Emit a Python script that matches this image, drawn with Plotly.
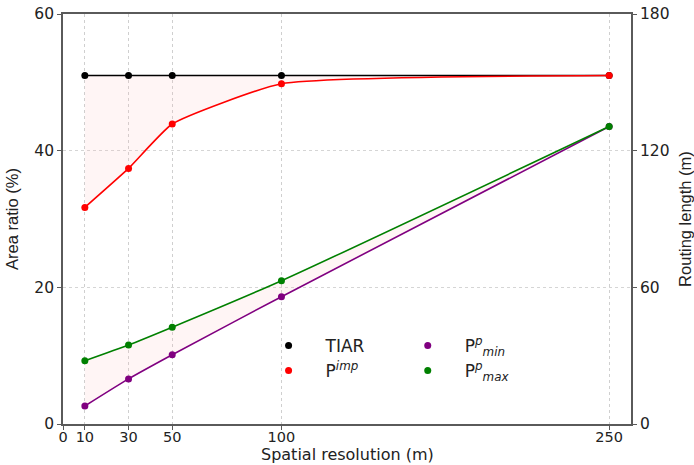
import plotly.graph_objects as go

res = [10, 30, 50, 100, 250]
tiar = [51.0, 51.0, 51.0, 51.0, 51.0]
p_imp = [31.7, 37.4, 43.9, 49.8, 51.0]
p_min = [7.9, 19.8, 30.4, 55.9, 130.6]
p_max = [27.8, 34.7, 42.5, 62.9, 130.6]
x_ticks = [0, 10, 30, 50, 100, 250]
y_ticks = [0, 20, 40, 60]
y2_ticks = [0, 60, 120, 180]

names = ["TIAR", "P<sup><i>imp</i></sup>",
         "P<sup><i>p</i></sup><sub><i>min</i></sub>",
         "P<sup><i>p</i></sup><sub><i>max</i></sub>"]
colors = ["black", "red", "purple", "green"]

FILL = "rgba(255,190,190,0.16)"
FONT = "DejaVu Sans"
TFONT = "Liberation Sans"

fig = go.Figure()
fig.add_trace(go.Scatter(x=res, y=tiar, mode="lines+markers", showlegend=False,
                         line=dict(color=colors[0], width=1.6, shape="spline", smoothing=0.6),
                         marker=dict(color=colors[0], size=7)))
fig.add_trace(go.Scatter(x=res, y=p_imp, mode="lines+markers", showlegend=False,
                         line=dict(color=colors[1], width=1.6, shape="spline", smoothing=0.45),
                         marker=dict(color=colors[1], size=7), fill="tonexty", fillcolor=FILL))
fig.add_trace(go.Scatter(x=res, y=p_min, mode="lines+markers", showlegend=False,
                         line=dict(color=colors[2], width=1.6, shape="spline", smoothing=0.6),
                         marker=dict(color=colors[2], size=7), yaxis="y2"))
fig.add_trace(go.Scatter(x=res, y=p_max, mode="lines+markers", showlegend=False,
                         line=dict(color=colors[3], width=1.6, shape="spline", smoothing=0.6),
                         marker=dict(color=colors[3], size=7), yaxis="y2", fill="tonexty",
                         fillcolor=FILL))

# legend-only marker entries
for i, (nm, c) in enumerate(zip(names, colors)):
    fig.add_trace(go.Scatter(x=[None], y=[None], mode="markers", name=nm,
                             marker=dict(color=c, size=7),
                             legend="legend" if i < 2 else "legend2"))

axis_line = dict(showline=True, linecolor="#5a5a5a", linewidth=1.8, ticks="outside",
                 ticklen=4, tickcolor="#5a5a5a", zeroline=False, automargin=False)

fig.update_layout(
    width=694, height=465,
    margin=dict(l=63, r=63, t=14, b=41),
    plot_bgcolor="white", paper_bgcolor="white",
    font=dict(family=FONT, size=16, color="#222222"),
    xaxis=dict(range=[0, 260], tickvals=x_ticks, ticktext=[str(v) for v in x_ticks],
               showgrid=True, gridcolor="#cfcfcf", griddash="dot", gridwidth=1,
               mirror=True, tickfont=dict(size=14.5), ticklabelstandoff=-5,
               **axis_line),
    yaxis=dict(range=[0, 60], tickvals=y_ticks, showgrid=True, gridcolor="#d5d5d5",
               griddash="dot", gridwidth=1, tickfont=dict(size=15.5),
               title=dict(text="Area ratio (%)", standoff=11,
                          font=dict(size=16.5, family=TFONT)),
               **axis_line),
    yaxis2=dict(range=[0, 180], tickvals=y2_ticks, overlaying="y", side="right",
                showgrid=False, tickfont=dict(size=15.5),
                title=dict(text="Routing length (m)", standoff=11,
                           font=dict(size=16.5, family=TFONT)),
                **axis_line),
    annotations=[dict(text="Spatial resolution (m)", xref="paper", yref="paper",
                      x=0.5, y=-0.099, xanchor="center", yanchor="bottom",
                      showarrow=False, borderpad=0, font=dict(size=16))],
    showlegend=True,
    legend=dict(x=0.332, y=0.16, xanchor="left", yanchor="middle", traceorder="normal",
                bgcolor="rgba(0,0,0,0)", font=dict(size=17), tracegroupgap=0,
                itemwidth=64),
    legend2=dict(x=0.577, y=0.16, xanchor="left", yanchor="middle", traceorder="normal",
                 bgcolor="rgba(0,0,0,0)", font=dict(size=17), tracegroupgap=0,
                 itemwidth=64),
)

fig.write_html("out.html")
